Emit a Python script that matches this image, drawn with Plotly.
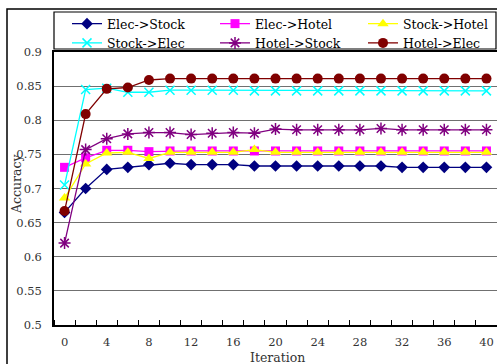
import plotly.graph_objects as go

iterations = list(range(0, 41, 2))
series_names = ["Elec->Stock", "Elec->Hotel", "Stock->Hotel", "Stock->Elec", "Hotel->Stock", "Hotel->Elec"]
elec_stock = [0.665, 0.700, 0.728, 0.731, 0.735, 0.737, 0.735, 0.735, 0.735, 0.733, 0.733,
              0.733, 0.733, 0.733, 0.733, 0.733, 0.731, 0.731, 0.731, 0.731, 0.731]
elec_hotel = [0.731, 0.745, 0.756, 0.756, 0.754, 0.755, 0.755, 0.755, 0.755, 0.755, 0.755,
              0.755, 0.755, 0.755, 0.755, 0.755, 0.755, 0.755, 0.755, 0.755, 0.755]
stock_hotel = [0.686, 0.736, 0.752, 0.753, 0.744, 0.753, 0.753, 0.753, 0.753, 0.757, 0.753,
               0.753, 0.753, 0.753, 0.753, 0.753, 0.753, 0.753, 0.753, 0.753, 0.753]
stock_elec = [0.705, 0.845, 0.847, 0.841, 0.841, 0.844, 0.844, 0.844, 0.844, 0.843, 0.843,
              0.843, 0.843, 0.843, 0.843, 0.843, 0.843, 0.843, 0.843, 0.843, 0.843]
hotel_stock = [0.620, 0.757, 0.773, 0.780, 0.782, 0.782, 0.779, 0.781, 0.782, 0.781, 0.787,
               0.786, 0.786, 0.786, 0.786, 0.788, 0.786, 0.786, 0.786, 0.786, 0.786]
hotel_elec = [0.667, 0.809, 0.846, 0.848, 0.859, 0.861, 0.861, 0.861, 0.861, 0.861, 0.861,
              0.861, 0.861, 0.861, 0.861, 0.861, 0.861, 0.861, 0.861, 0.861, 0.861]
x_tick_vals = list(range(0, 41, 4))
y_tick_vals = [0.5, 0.55, 0.6, 0.65, 0.7, 0.75, 0.8, 0.85, 0.9]

all_values = [elec_stock, elec_hotel, stock_hotel, stock_elec, hotel_stock, hotel_elec]
colors = ["#000080", "#FF00FF", "#FFFF00", "#00FFFF", "#800080", "#800000"]
symbols = ["diamond", "square", "triangle-up", "x-thin-open", "asterisk-open", "circle"]
sizes = [9, 9, 10, 9, 10, 10]
legend_ids = ["legend", "legend2", "legend3", "legend", "legend2", "legend3"]

fig = go.Figure()
for name, vals, c, s, sz, lg in zip(series_names, all_values, colors, symbols, sizes, legend_ids):
    open_sym = s.endswith("open")
    fig.add_trace(go.Scatter(
        x=iterations, y=vals, name=name, mode="lines+markers", legend=lg,
        line=dict(color=c, width=1.3),
        marker=dict(symbol=s, size=sz, color=c,
                    line=dict(color=c, width=1.5 if open_sym else 0)),
    ))

L, T, B = 54, 52, 39
W, H = 497, 364
pw, ph = W - L, H - T - B

def px_x(p):
    return (p - L) / pw

def px_y(p):
    return (H - B - p) / ph

font_serif = "DejaVu Serif"

def leg(xp):
    return dict(orientation="v", x=px_x(xp), y=px_y(9), xanchor="left", yanchor="top",
                font=dict(family=font_serif, size=12.5, color="black"),
                bgcolor="rgba(0,0,0,0)", borderwidth=0, traceorder="normal")

fig.update_layout(
    width=W, height=H,
    margin=dict(l=L, r=0, t=T, b=B),
    paper_bgcolor="white", plot_bgcolor="white",
    showlegend=True,
    legend=leg(67), legend2=leg(215), legend3=leg(363),
    xaxis=dict(range=[-1, 41], tickvals=x_tick_vals, ticks="", showgrid=False,
               zeroline=False, showline=True, linecolor="black", linewidth=1.5, mirror=True,
               tickfont=dict(family=font_serif, size=11.5, color="#333"),
               ticklabelstandoff=5,
               minor=dict(tick0=1, dtick=2, ticks="inside", ticklen=5, tickcolor="black",
                          tickwidth=1, showgrid=False)),
    yaxis=dict(range=[0.5, 0.9], tickvals=y_tick_vals, ticks="", showgrid=True,
               gridcolor="#707070", gridwidth=1, zeroline=False,
               showline=True, linecolor="black", linewidth=1.5,
               tickfont=dict(family=font_serif, size=11.5, color="#333"),
               ticklabelstandoff=8),
    shapes=[
        dict(type="rect", xref="paper", yref="paper", x0=px_x(7), x1=px_x(510),
             y0=px_y(380), y1=px_y(9), line=dict(color="black", width=1.5)),
        dict(type="rect", xref="paper", yref="paper", x0=px_x(54), x1=px_x(496),
             y0=px_y(49), y1=px_y(12), line=dict(color="black", width=1.2)),
    ],
    annotations=[
        dict(text="Iteration", xref="paper", yref="paper", x=px_x(277), y=px_y(357),
             showarrow=False, font=dict(family=font_serif, size=12.5, color="#333"),
             xanchor="center", yanchor="middle"),
        dict(text="Accuracy", xref="paper", yref="paper", x=px_x(17), y=px_y(184),
             showarrow=False, textangle=-90,
             font=dict(family=font_serif, size=12.5, color="#333"),
             xanchor="center", yanchor="middle"),
    ],
)

fig.write_html("out.html")
